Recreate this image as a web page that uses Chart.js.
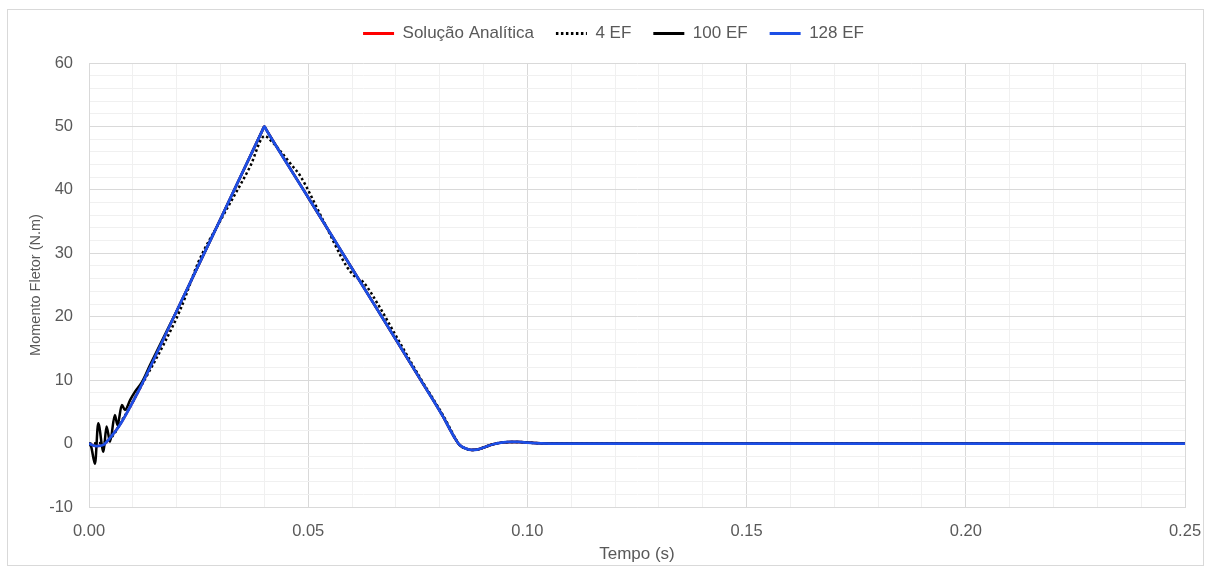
<!DOCTYPE html>
<html>
  <head>
    <title>Momento Fletor x Tempo</title>
    <script src="https://cdn.jsdelivr.net/npm/chart.js@4.4.1/dist/chart.umd.min.js"></script>
    <style>
      body {
        margin: 0;
        background: #fff;
        font-family: "Liberation Sans", Arial, sans-serif;
      }

      .frame {
        position: absolute;
        left: 7px;
        top: 9px;
        width: 1197px;
        height: 557px;
        border: 1px solid #d9d9d9;
        box-sizing: border-box;
      }

      .chart-box {
        position: relative;
        width: 1213px;
        height: 574px;
      }
    </style>
  </head>
  <body>
    <div class="frame"></div>
    <div class="chart-box">
      <canvas id="grafico"></canvas>
    </div>

    <script>
      // valores
      const tempo128 = [0, 0.001, 0.00175, 0.0033, 0.0048, 0.007, 0.0094, 0.0116, 0.02, 0.03, 0.0395, 0.04, 0.0405,
        0.05, 0.06, 0.07, 0.0755, 0.0808, 0.0822, 0.0835, 0.0845, 0.086, 0.0873, 0.0885, 0.0905, 0.0922, 0.094,
        0.096, 0.098, 0.1, 0.103, 0.107, 0.25];
      const momento128 = [0, -0.3, -0.4, -0.2, 0.9, 2.9, 5.8, 8.7, 20.9, 35.4, 49.3, 50, 49.4,
        38.8, 27.6, 16.4, 10.2, 4.2, 2.4, 0.8, -0.2, -0.8, -1.0, -0.95, -0.5, -0.1, 0.15,
        0.25, 0.25, 0.15, 0.05, 0, 0];

      const tempoAnalitica = tempo128;
      const momentoAnalitica = momento128;

      const tempo4 = [0, 0.004, 0.008, 0.012, 0.017, 0.021, 0.025, 0.03, 0.0367, 0.0401, 0.0417, 0.0428, 0.0466,
        0.0481, 0.0534, 0.0588, 0.0607, 0.0625, 0.0664, 0.07, 0.0755, 0.0808, 0.0822, 0.0835, 0.0845, 0.086,
        0.0873, 0.0885, 0.0905, 0.0922, 0.094, 0.096, 0.098, 0.1, 0.103, 0.107, 0.25];
      const momento4 = [0, 0.3, 4.2, 9.2, 15.6, 21.4, 28.7, 35.2, 43.6, 48.5, 47.6, 46.8, 43.6,
        42.3, 35.2, 27.9, 26.3, 25.5, 21.4, 17.0, 10.4, 4.4, 2.6, 0.9, -0.2, -0.8,
        -1.0, -0.95, -0.5, -0.1, 0.15, 0.25, 0.25, 0.15, 0.05, 0, 0];

      const tempo100 = [0, 0.0005, 0.00137, 0.0021, 0.0033, 0.004, 0.0048, 0.0059, 0.0065, 0.0075, 0.0082, 0.0094,
        0.0105, 0.012, 0.014, 0.02, 0.03, 0.0395, 0.04, 0.0405, 0.05, 0.06, 0.07, 0.0755, 0.0808, 0.0822, 0.0835,
        0.0845, 0.086, 0.0873, 0.0885, 0.0905, 0.0922, 0.094, 0.096, 0.098, 0.1, 0.103, 0.107, 0.25];
      const momento100 = [0, -0.5, -3.2, 3.2, -1.3, 2.7, 0.3, 4.5, 2.9, 6.1, 5.3, 6.9,
        8.2, 9.6, 12.5, 20.9, 35.4, 49.3, 50, 49.4, 38.8, 27.6, 16.4, 10.2, 4.2, 2.4, 0.8,
        -0.2, -0.8, -1.0, -0.95, -0.5, -0.1, 0.15, 0.25, 0.25, 0.15, 0.05, 0, 0];

      const xTicks = [0, 0.05, 0.1, 0.15, 0.2, 0.25];
      const yTicks = [-10, 0, 10, 20, 30, 40, 50, 60];

      function pontos(xs, ys) {
        return xs.map((x, i) => ({ x: x, y: ys[i] }));
      }

      function ehMaior(valor, passo) {
        const r = valor / passo;
        return Math.abs(r - Math.round(r)) < 1e-6;
      }

      const familia = "'Liberation Sans', Arial, sans-serif";
      const fonteTick = { family: familia, size: 16.5 };
      const fonteLegenda = { family: familia, size: 17 };

      // desloca a legenda para a posicao do original
      const moverLegenda = {
        id: "moverLegenda",
        afterLayout(chart) {
          chart.legend.left += 17;
          chart.legend.right += 17;
          chart.legend.top -= 11;
          chart.legend.bottom -= 11;
        },
      };

      new Chart("grafico", {
        type: "line",
        data: {
          datasets: [
            {
              label: "Solução Analítica",
              data: pontos(tempoAnalitica, momentoAnalitica),
              borderColor: "#ff0000",
              backgroundColor: "#ff0000",
              borderWidth: 2.5,
              order: 3,
            },
            {
              label: "4 EF",
              data: pontos(tempo4, momento4),
              borderColor: "#000000",
              backgroundColor: "#000000",
              borderWidth: 2.5,
              borderDash: [2.5, 2.5],
              order: 2,
            },
            {
              label: "100 EF",
              data: pontos(tempo100, momento100),
              borderColor: "#000000",
              backgroundColor: "#000000",
              borderWidth: 2.5,
              order: 1,
            },
            {
              label: "128 EF",
              data: pontos(tempo128, momento128),
              borderColor: "#1d4fe6",
              backgroundColor: "#1d4fe6",
              borderWidth: 2.75,
              order: 0,
            },
          ],
        },
        options: {
          responsive: true,
          maintainAspectRatio: false,
          animation: false,
          layout: { padding: { left: 8, right: 28, top: 14, bottom: 8 } },
          elements: {
            point: { radius: 0 },
            line: { cubicInterpolationMode: "monotone", borderCapStyle: "butt" },
          },
          plugins: {
            tooltip: { enabled: false },
            legend: {
              position: "top",
              labels: {
                font: fonteLegenda,
                color: "#595959",
                usePointStyle: true,
                pointStyle: "line",
                pointStyleWidth: 31,
                boxHeight: 15,
                padding: 22,
                sort: (a, b) => a.datasetIndex - b.datasetIndex,
                generateLabels: (chart) => {
                  const itens = Chart.defaults.plugins.legend.labels.generateLabels(chart);
                  itens.forEach((item) => {
                    const ds = chart.data.datasets[item.datasetIndex];
                    item.lineDash = ds.borderDash || [];
                    item.lineWidth = 3;
                    item.strokeStyle = ds.borderColor;
                  });
                  return itens;
                },
              },
            },
          },
          scales: {
            x: {
              type: "linear",
              min: 0,
              max: 0.25,
              afterFit: (scale) => {
                scale.height = 59;
                scale.paddingRight = 0;
              },
              ticks: {
                stepSize: 0.01,
                autoSkip: false,
                maxRotation: 0,
                padding: 15,
                color: "#595959",
                font: fonteTick,
                callback: (v) => (xTicks.some((t) => Math.abs(t - v) < 1e-6) ? v.toFixed(2) : ""),
              },
              grid: {
                drawTicks: false,
                color: (ctx) => (ehMaior(ctx.tick.value, 0.05) ? "#d9d9d9" : "#f0f0f0"),
              },
              border: { color: "#d9d9d9" },
              title: {
                display: true,
                text: "Tempo (s)",
                color: "#595959",
                font: fonteLegenda,
                padding: { top: 7, bottom: 1 },
              },
            },
            y: {
              min: -10,
              max: 60,
              afterFit: (scale) => {
                scale.width = 81;
              },
              ticks: {
                stepSize: 2,
                autoSkip: false,
                padding: 16,
                color: "#595959",
                font: fonteTick,
                callback: (v) => (yTicks.includes(v) ? v : ""),
              },
              grid: {
                drawTicks: false,
                color: (ctx) => (ehMaior(ctx.tick.value, 10) ? "#d9d9d9" : "#f0f0f0"),
              },
              border: { color: "#d9d9d9" },
              title: {
                display: true,
                text: "Momento Fletor (N.m)",
                color: "#595959",
                font: { family: familia, size: 14.5 },
                padding: { top: 19, bottom: 0 },
              },
            },
          },
        },
        plugins: [moverLegenda],
      });
    </script>
  </body>
</html>
